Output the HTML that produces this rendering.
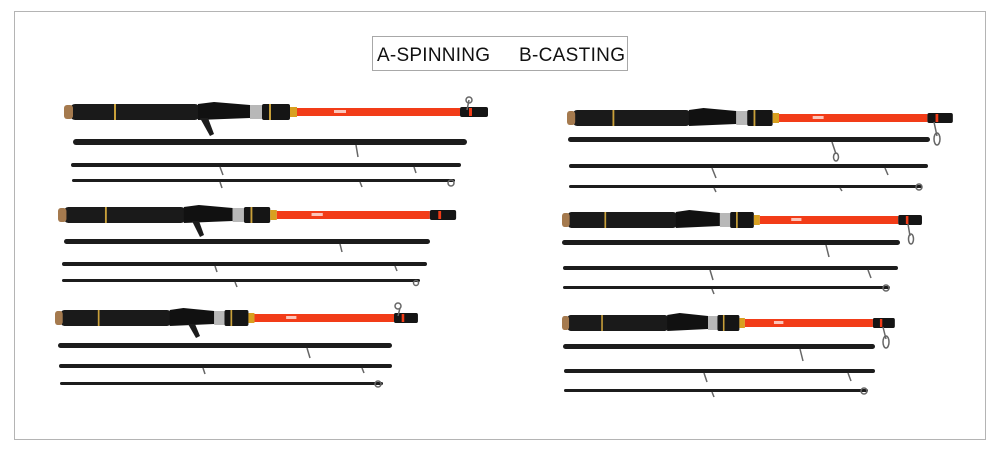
<!DOCTYPE html>
<html><head><meta charset="utf-8"><style>
html,body{margin:0;padding:0;background:#fff;}
svg{display:block;}
</style></head><body>
<svg width="1000" height="469" viewBox="0 0 1000 469" xmlns="http://www.w3.org/2000/svg">
<defs>
<g id="handle">
  <rect x="6" y="-8" width="130" height="16" rx="5" fill="#1a1a1a"/>
  <rect x="0" y="-7" width="9" height="14" rx="3" fill="#a57a4e"/>
  <rect x="50" y="-8" width="2" height="16" fill="#c9a03a"/>
  <path d="M134,-8 L150,-10 L186,-7 L186,6 L134,8z" fill="#111"/>
  <rect x="186" y="-7" width="12" height="14" fill="#b8b8b8"/>
  <rect x="198" y="-8" width="28" height="16" rx="2" fill="#151515"/>
  <rect x="205" y="-8" width="2" height="16" fill="#c9a03a"/>
  <rect x="226" y="-5" width="7" height="10" fill="#d8a020"/>
  <rect x="233" y="-4" width="163" height="8" fill="#f23c18"/>
  <rect x="270" y="-2" width="12" height="3" fill="#fff" opacity="0.7"/>
  <rect x="396" y="-5" width="28" height="10" rx="2" fill="#151515"/>
  <rect x="405" y="-4" width="3" height="8" fill="#f23c18"/>
</g>
</defs>
<rect x="14.5" y="11.5" width="971" height="428" fill="none" stroke="#b4b4b4"/>
<rect x="372.5" y="36.5" width="255" height="34" fill="#fff" stroke="#a8a8a8"/>
<text x="377" y="61" font-family="Liberation Sans, sans-serif" font-size="19" fill="#111" textLength="113">A-SPINNING</text>
<text x="519" y="61" font-family="Liberation Sans, sans-serif" font-size="19" fill="#111" textLength="106">B-CASTING</text>

<g fill="#1c1c1c">
<use href="#handle" transform="translate(64,112) scale(1,1)"/>
<path d="M200,118 l10,18 l4,-2 l-6,-16z"/>
<rect x="73" y="139" width="394" height="6" rx="3"/>
<rect x="71" y="163" width="390" height="4" rx="2"/>
<rect x="72" y="179" width="383" height="3" rx="1.5"/>
<use href="#handle" transform="translate(58,215) scale(0.939,1)"/>
<path d="M192,221 l8,16 l4,-2 l-5,-14z"/>
<rect x="64" y="239" width="366" height="5" rx="2.5"/>
<rect x="62" y="262" width="365" height="4" rx="2"/>
<rect x="62" y="279" width="358" height="3" rx="1.5"/>
<use href="#handle" transform="translate(55,318) scale(0.856,1)"/>
<path d="M188,324 l8,14 l4,-2 l-5,-12z"/>
<rect x="58" y="343" width="334" height="5" rx="2.5"/>
<rect x="59" y="364" width="333" height="4" rx="2"/>
<rect x="60" y="382" width="323" height="3" rx="1.5"/>
<use href="#handle" transform="translate(567,118) scale(0.91,1)"/>
<rect x="568" y="137" width="362" height="5" rx="2.5"/>
<rect x="569" y="164" width="359" height="4" rx="2"/>
<rect x="569" y="185" width="353" height="3" rx="1.5"/>
<use href="#handle" transform="translate(562,220) scale(0.849,1)"/>
<rect x="562" y="240" width="338" height="5" rx="2.5"/>
<rect x="563" y="266" width="335" height="4" rx="2"/>
<rect x="563" y="286" width="327" height="3" rx="1.5"/>
<use href="#handle" transform="translate(562,323) scale(0.785,1)"/>
<rect x="563" y="344" width="312" height="5" rx="2.5"/>
<rect x="564" y="369" width="311" height="4" rx="2"/>
<rect x="564" y="389" width="304" height="3" rx="1.5"/>
</g>
<g stroke="#666" stroke-width="1.5" fill="none">
<path d="M467,110 l2,-10"/><circle cx="469" cy="100" r="3"/>
<path d="M356,145 l2,12"/><path d="M220,167 l3,8"/><path d="M414,167 l2,6"/>
<path d="M220,182 l2,6"/><path d="M360,182 l2,5"/><circle cx="451" cy="183" r="3"/>
<path d="M340,244 l2,8"/><path d="M215,266 l2,6"/><path d="M395,266 l2,5"/><path d="M235,282 l2,5"/><circle cx="416" cy="283" r="2.5"/>
<path d="M398,316 l2,-8"/><circle cx="398" cy="306" r="3"/>
<path d="M307,348 l3,10"/><path d="M203,368 l2,6"/><path d="M362,368 l2,5"/><circle cx="378" cy="384" r="3"/>
<path d="M934,122 l3,14"/><ellipse cx="937" cy="139" rx="3" ry="6"/>
<path d="M832,142 l4,12"/><ellipse cx="836" cy="157" rx="2.5" ry="4"/><path d="M712,168 l4,10"/><path d="M885,168 l3,7"/>
<path d="M714,188 l2,4"/><path d="M840,188 l2,3"/><circle cx="919" cy="187" r="3"/>
<path d="M908,224 l2,12"/><ellipse cx="911" cy="239" rx="2.5" ry="5"/><path d="M826,245 l3,12"/>
<path d="M710,270 l3,10"/><path d="M868,270 l3,8"/><path d="M712,289 l2,5"/><circle cx="886" cy="288" r="3"/>
<path d="M883,327 l3,12"/><ellipse cx="886" cy="342" rx="3" ry="6"/><path d="M800,349 l3,12"/>
<path d="M704,373 l3,9"/><path d="M848,373 l3,8"/><path d="M712,392 l2,5"/><circle cx="864" cy="391" r="3"/>
</g>
</svg>
</body></html>
